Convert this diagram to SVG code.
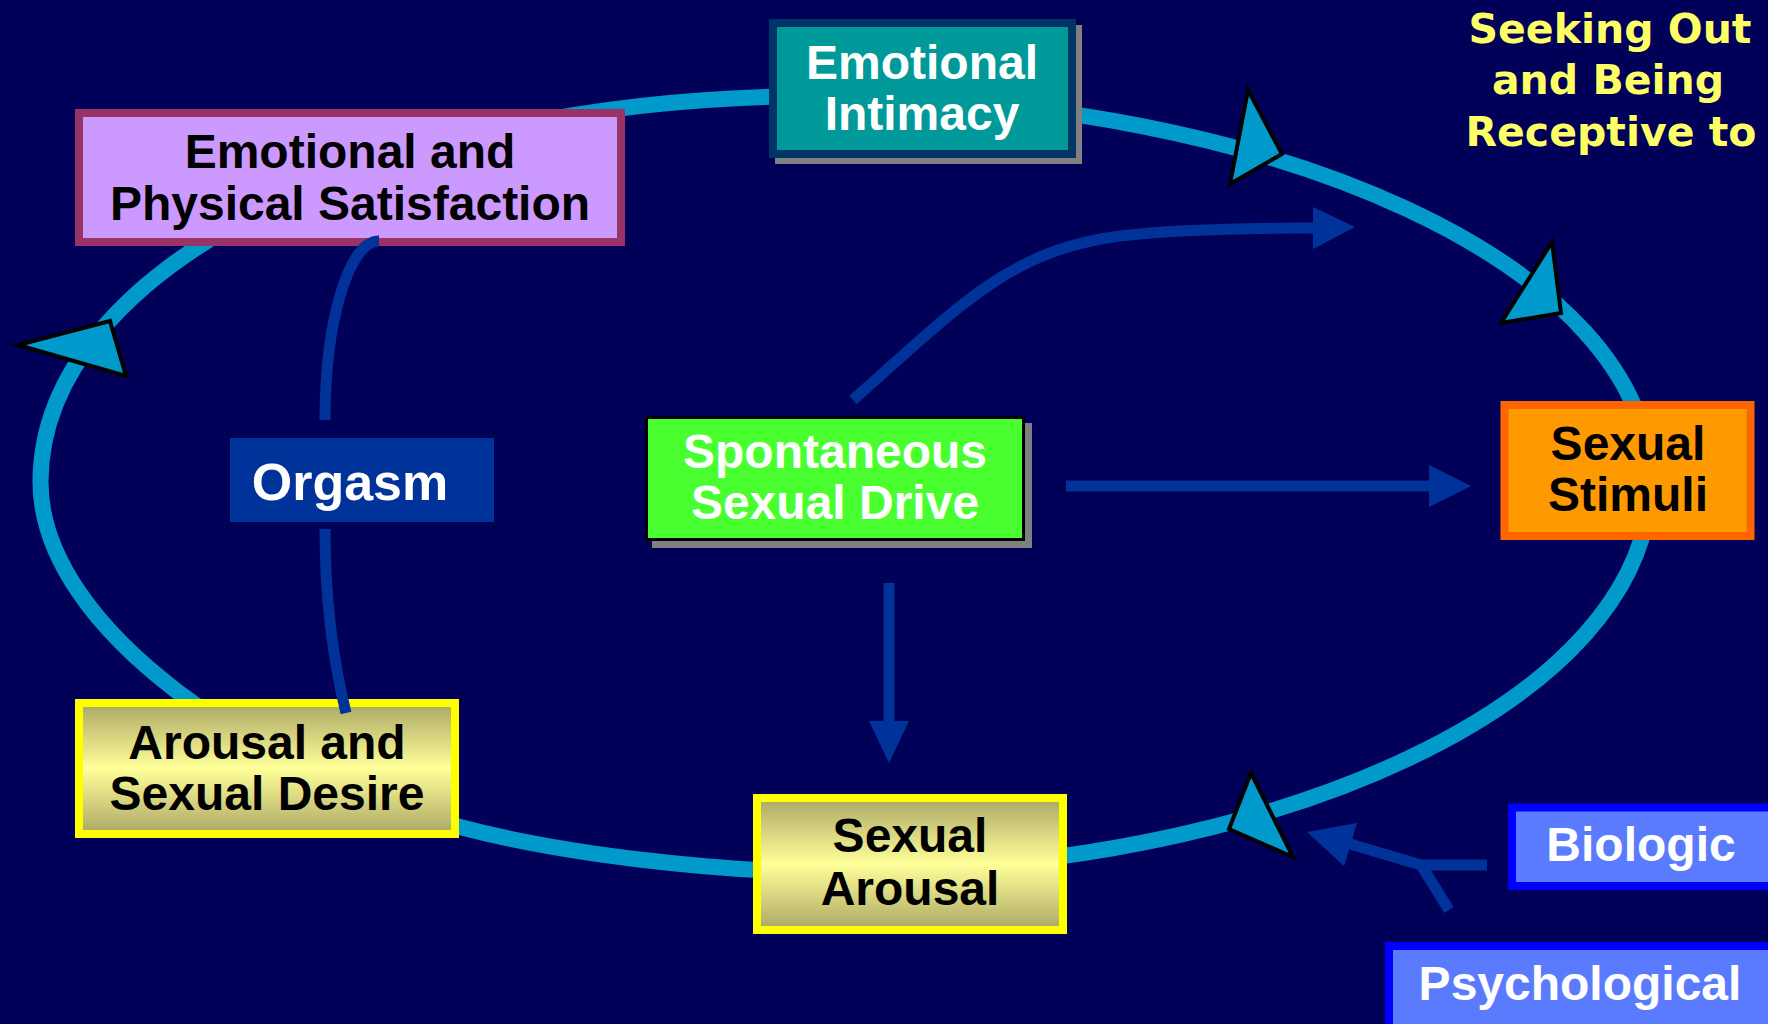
<svg xmlns="http://www.w3.org/2000/svg" width="1768" height="1024" viewBox="0 0 1768 1024">
  <defs>
    <linearGradient id="goldFill" x1="0" y1="0" x2="0" y2="1">
      <stop offset="0" stop-color="#ABA765"/>
      <stop offset="0.5" stop-color="#FFFF99"/>
      <stop offset="1" stop-color="#ABA765"/>
    </linearGradient>
  </defs>
  <style>
    .lbl { font-family: "Liberation Sans", Arial, sans-serif; font-weight: bold; font-size: 48px; text-anchor: middle; }
    .dark { fill: #000000; }
    .light { fill: #FFFFFF; }
    .loop { fill: none; stroke: #0099CC; stroke-width: 16; }
    .head { fill: #0099CC; stroke: #000000; stroke-width: 4; stroke-linejoin: miter; }
    .link { fill: none; stroke: #003399; stroke-width: 11; }
    .tip { fill: #003399; }
    .shadow { fill: #808080; }
    .gold { fill: url(#goldFill); stroke: #FFFF00; stroke-width: 8; }
    .factor { fill: #5B7BFF; stroke: #0000FF; stroke-width: 8; }
    .caption { font-family: "DejaVu Sans", Verdana, sans-serif; font-weight: bold; font-size: 41px; fill: #FFFF66; text-anchor: middle; }
  </style>

  <!-- background -->
  <rect x="0" y="0" width="1768" height="1024" fill="#000058"/>

  <!-- response cycle loop -->
  <g id="cycle">
    <path class="loop" d="M 40.5 482 C 40.5 265.8, 383.5 96, 820 96 C 1278.4 96, 1650 268.8, 1650 482 C 1650 697.4, 1282.9 872, 830 872 C 720 872, 566 855, 460 827 C 266.6 776.4, 40.5 632, 40.5 482 Z"/>
    <polygon class="head" points="18,345 110,321 126,376"/>
    <polygon class="head" points="1248,90 1282,154 1230,184"/>
    <polygon class="head" points="1552,242 1561,313 1501,323"/>
    <polygon class="head" points="1251,773 1293,857 1229,829"/>
  </g>

  <!-- nodes -->
  <g id="node-satisfaction">
    <rect x="79" y="113" width="542" height="129" fill="#CC99FF" stroke="#993366" stroke-width="8"/>
    <text class="lbl dark" x="350" y="168">Emotional and</text>
    <text class="lbl dark" x="350" y="220">Physical Satisfaction</text>
  </g>

  <g id="node-intimacy">
    <rect class="shadow" x="775" y="25" width="307" height="139"/>
    <rect x="773" y="23" width="299" height="131" fill="#009999" stroke="#003366" stroke-width="8"/>
    <text class="lbl light" x="922" y="79">Emotional</text>
    <text class="lbl light" x="922" y="130">Intimacy</text>
  </g>

  <g id="caption-seeking">
    <text class="caption" x="1610" y="43">Seeking Out</text>
    <text class="caption" x="1608" y="94">and Being</text>
    <text class="caption" x="1611" y="146">Receptive to</text>
  </g>

  <g id="node-orgasm">
    <rect x="230" y="438" width="264" height="84" fill="#003399"/>
    <text class="lbl light" x="350" y="500" style="font-size:52px">Orgasm</text>
  </g>

  <g id="node-drive">
    <rect class="shadow" x="652" y="423" width="380" height="125"/>
    <rect x="646.5" y="417.5" width="377" height="122" fill="#49FF2F" stroke="#000000" stroke-width="3"/>
    <text class="lbl light" x="835" y="468">Spontaneous</text>
    <text class="lbl light" x="835" y="519">Sexual Drive</text>
  </g>

  <g id="node-stimuli">
    <rect x="1504.5" y="405" width="246" height="131" fill="#FF9900" stroke="#FF6600" stroke-width="8"/>
    <text class="lbl dark" x="1628" y="460">Sexual</text>
    <text class="lbl dark" x="1628" y="511">Stimuli</text>
  </g>

  <g id="node-desire">
    <rect class="gold" x="79" y="703" width="376" height="131"/>
    <text class="lbl dark" x="267" y="759">Arousal and</text>
    <text class="lbl dark" x="267" y="810">Sexual Desire</text>
  </g>

  <g id="node-arousal">
    <rect class="gold" x="757" y="798" width="306" height="132"/>
    <text class="lbl dark" x="910" y="852">Sexual</text>
    <text class="lbl dark" x="910" y="905">Arousal</text>
  </g>

  <g id="node-biologic">
    <rect class="factor" x="1512" y="807.5" width="300" height="78.5"/>
    <text class="lbl light" x="1641" y="861">Biologic</text>
  </g>

  <g id="node-psychological">
    <rect class="factor" x="1389" y="946" width="420" height="120"/>
    <text class="lbl light" x="1580" y="1000">Psychological</text>
  </g>

  <!-- connectors -->
  <g id="connectors">
    <path class="link" d="M 379 241 C 349 241, 325 321, 325 420"/>
    <path class="link" d="M 325 529 C 325 600, 333 660, 346 713"/>
    <path class="link" d="M 853 400 C 960 305, 1010 250, 1120 236 C 1180 229, 1250 228, 1316 228"/>
    <polygon class="tip" points="1313,207 1355,227 1313,249"/>
    <path class="link" d="M 1066 486 H 1431"/>
    <polygon class="tip" points="1429,465 1471,486 1429,507"/>
    <path class="link" d="M 889 583 V 723"/>
    <polygon class="tip" points="869,721 909,721 889,763"/>
    <path class="link" d="M 1487 865 L 1421 865 L 1350 844"/>
    <path class="link" d="M 1449 910 L 1421 865"/>
    <polygon class="tip" points="1307,832 1357,823 1344,866"/>
  </g>
</svg>
